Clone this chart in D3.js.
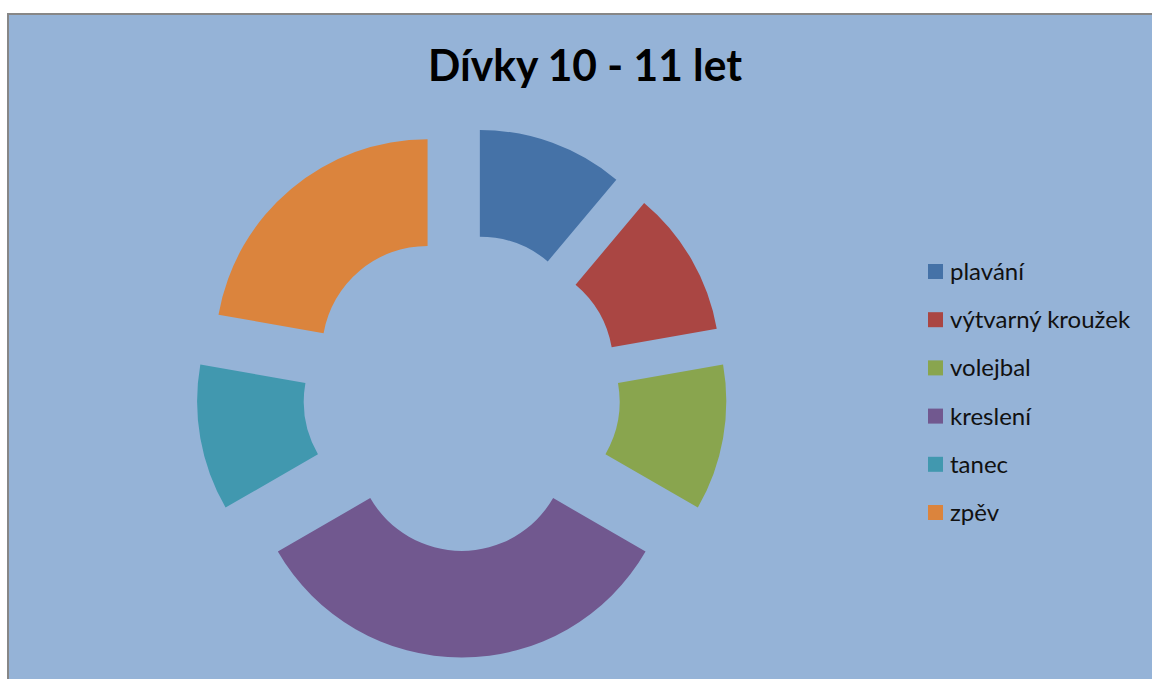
<!DOCTYPE html>
<html>
<head>
<meta charset="utf-8">
<script src="https://cdn.jsdelivr.net/npm/d3@7"></script>
<style>
  body { margin: 0; background: #ffffff; }
  svg { display: block; }
</style>
</head>
<body>
<div id="chart"></div>
<script>
// chart data
var title = "Dívky 10 - 11 let";
var categories = ["plavání", "výtvarný kroužek", "volejbal", "kreslení", "tanec", "zpěv"];
var values = [1, 1, 1, 3, 1, 2];
var colors = ["#4572A7", "#AA4643", "#89A54E", "#71588F", "#4198AF", "#DB843D"];

var width = 1152, height = 679;
var svg = d3.select("#chart").append("svg")
    .attr("width", width)
    .attr("height", height);

// chart area with grey frame (runs past the right / bottom edge)
svg.append("rect")
    .attr("x", 8).attr("y", 14)
    .attr("width", 1200).attr("height", 720)
    .attr("fill", "#95B3D7")
    .attr("stroke", "#878787")
    .attr("stroke-width", 2);

svg.append("text")
    .attr("x", 585).attr("y", 81)
    .attr("text-anchor", "middle")
    .style("font-family", "Lato, 'Noto Sans', sans-serif")
    .style("font-weight", "bold")
    .style("font-size", "44px")
    .attr("textLength", 314)
    .attr("lengthAdjust", "spacingAndGlyphs")
    .attr("fill", "#000")
    .text(title);

// exploded doughnut
var cx = 461.7, cy = 392.2;
var outerR = 212.3, innerR = 105.6, explode = 53.1;

var pie = d3.pie().sort(null).value(function (d) { return d; });
var arc = d3.arc().innerRadius(innerR).outerRadius(outerR);

var g = svg.append("g").attr("transform", "translate(" + cx + "," + cy + ")");
g.selectAll("path")
    .data(pie(values))
    .enter().append("path")
    .attr("d", arc)
    .attr("fill", function (d, i) { return colors[i]; })
    .attr("transform", function (d) {
        var mid = (d.startAngle + d.endAngle) / 2;
        return "translate(" + (explode * Math.sin(mid)) + "," + (-explode * Math.cos(mid)) + ")";
    });

// legend
var legend = svg.append("g").attr("transform", "translate(928,264)");
var row = legend.selectAll("g")
    .data(categories)
    .enter().append("g")
    .attr("transform", function (d, i) { return "translate(0," + (i * 48.2) + ")"; });
row.append("rect")
    .attr("width", 15).attr("height", 15)
    .attr("fill", function (d, i) { return colors[i]; });
row.append("text")
    .attr("x", 22).attr("y", 16)
    .style("font-family", "Lato, 'Noto Sans', sans-serif")
    .style("font-size", "24px")
    .attr("fill", "#111")
    .text(function (d) { return d; });
</script>
</body>
</html>
